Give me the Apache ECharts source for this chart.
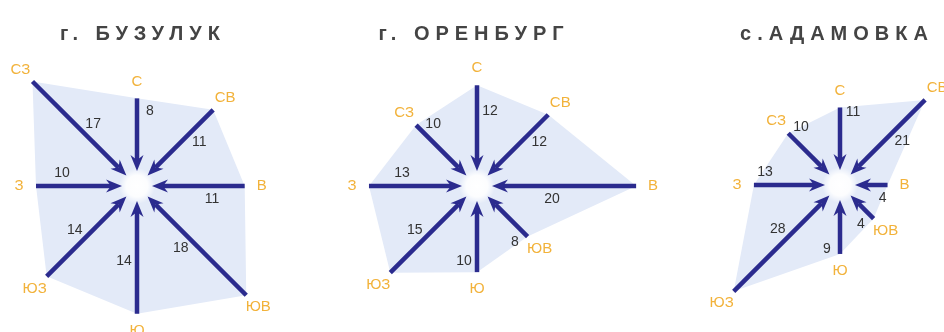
<!DOCTYPE html>
<html>
<head>
<meta charset="utf-8">
<script src="https://cdn.jsdelivr.net/npm/echarts@6/dist/echarts.min.js"></script>
<style>
    html, body { margin: 0; padding: 0; background: #fff; }
    #wrap { position: relative; width: 944px; height: 332px; }
    #chart { position: absolute; left: 0; top: 0; width: 944px; height: 332px; }
    #titles { position: absolute; left: 0; top: 0; width: 944px; height: 60px; }
    #titles text { letter-spacing: 6px; }
</style>
</head>
<body>
<div id="wrap">
    <div id="chart"></div>
    <div id="titles"></div>
</div>
<script>
// румбы и углы (0 = север, по часовой стрелке)
var directions = ['С', 'СВ', 'В', 'ЮВ', 'Ю', 'ЮЗ', 'З', 'СЗ'];
var angles = [0, 45, 90, 135, 180, 225, 270, 315];

var titles = ['г. БУЗУЛУК', 'г. ОРЕНБУРГ', 'с.АДАМОВКА'];

// повторяемость ветров, %
var buzuluk = [8, 11, 11, 18, 14, 14, 10, 17];
var orenburg = [12, 12, 20, 8, 10, 15, 13, 10];
var adamovka = [11, 21, 4, 4, 9, 28, 13, 10];

var arrowColor = '#2b2b8e';
var labelColor = '#f2b23a';
var areaColor = '#e3eaf8';

// положение и масштаб каждой розы
var panels = [
    { data: buzuluk, center: [137, 186], min: -5.1, max: 24.8, titleX: 138 },
    { data: orenburg, center: [477, 186], min: -1.8, max: 25.6, titleX: 469 },
    { data: adamovka, center: [840, 185], min: -7.1, max: 39.6, titleX: 832 }
];

function areaItem(params, api) {
    if (params.dataIndexInside !== 0) return null;
    var pts = [];
    for (var k = 0; k < params.dataInsideLength; k++) {
        pts.push(api.coord([api.value(0, k), api.value(1, k)]));
    }
    var cs = params.coordSys;
    return {
        type: 'group',
        children: [
            { type: 'polygon', shape: { points: pts }, style: { fill: areaColor } },
            {
                type: 'circle',
                shape: { cx: cs.cx, cy: cs.cy, r: 18 },
                style: {
                    fill: new echarts.graphic.RadialGradient(0.5, 0.5, 0.5, [
                        { offset: 0, color: '#ffffff' },
                        { offset: 0.6, color: 'rgba(255,255,255,0.9)' },
                        { offset: 1, color: 'rgba(255,255,255,0)' }
                    ])
                }
            }
        ]
    };
}

function arrowItem(params, api) {
    var cs = params.coordSys;
    var end = api.coord([api.value(0), api.value(1)]);
    var dx = end[0] - cs.cx, dy = end[1] - cs.cy;
    var len = Math.sqrt(dx * dx + dy * dy);
    var ux = dx / len, uy = dy / len;
    var px = -uy, py = ux; // сторона по часовой стрелке
    var gap = 15;
    var tip = [cs.cx + ux * gap, cs.cy + uy * gap];
    var notch = [tip[0] + ux * 11, tip[1] + uy * 11];
    var wing = [tip[0] + ux * 16, tip[1] + uy * 16];
    var along = Math.min(75, len - 5);
    var side = 13;
    var out = len + 17;
    return {
        type: 'group',
        children: [
            {
                type: 'line',
                shape: { x1: end[0], y1: end[1], x2: notch[0], y2: notch[1] },
                style: { stroke: arrowColor, lineWidth: 4.5 }
            },
            {
                type: 'polygon',
                shape: {
                    points: [
                        tip,
                        [wing[0] + px * 6.5, wing[1] + py * 6.5],
                        notch,
                        [wing[0] - px * 6.5, wing[1] - py * 6.5]
                    ]
                },
                style: { fill: arrowColor }
            },
            {
                type: 'text',
                x: cs.cx + ux * along + px * side,
                y: cs.cy + uy * along + py * side,
                style: {
                    text: String(api.value(0)),
                    fill: '#333',
                    font: '14px "Liberation Sans", Arial, sans-serif',
                    align: 'center',
                    verticalAlign: 'middle'
                }
            },
            {
                type: 'text',
                x: cs.cx + ux * out,
                y: cs.cy + uy * out,
                style: {
                    text: directions[params.dataIndex],
                    fill: labelColor,
                    font: '15px "Liberation Sans", Arial, sans-serif',
                    align: 'center',
                    verticalAlign: 'middle'
                }
            }
        ]
    };
}

var option = {
    backgroundColor: '#fff',
    animation: false,
    polar: [],
    angleAxis: [],
    radiusAxis: [],
    series: []
};
var titleOption = { animation: false, title: [] };

panels.forEach(function (p, i) {
    titleOption.title.push({
        text: titles[i],
        left: p.titleX,
        top: 18,
        textAlign: 'center',
        textStyle: { color: '#444', fontSize: 20, fontWeight: 'bold', fontFamily: '"Liberation Sans", Arial, sans-serif' }
    });
    option.polar.push({ center: p.center, radius: 200 });
    option.angleAxis.push({
        polarIndex: i, type: 'value', min: 0, max: 360, startAngle: 90, clockwise: true,
        show: false, axisLine: { show: false }, splitLine: { show: false }, axisLabel: { show: false }, axisTick: { show: false }
    });
    option.radiusAxis.push({
        polarIndex: i, type: 'value', min: p.min, max: p.max,
        show: false, axisLine: { show: false }, splitLine: { show: false }, axisLabel: { show: false }, axisTick: { show: false }
    });
    var pts = p.data.map(function (v, k) { return [v, angles[k]]; });
    option.series.push({
        type: 'custom', coordinateSystem: 'polar', polarIndex: i, silent: true, z: 1,
        renderItem: areaItem, data: pts
    });
    option.series.push({
        type: 'custom', coordinateSystem: 'polar', polarIndex: i, silent: true, z: 2,
        renderItem: arrowItem, data: pts
    });
});

var myChart = echarts.init(document.getElementById('chart'));
myChart.setOption(option);

// заголовки отдельно, в SVG, чтобы задать разрядку букв
var titleChart = echarts.init(document.getElementById('titles'), null, { renderer: 'svg' });
titleChart.setOption(titleOption);
</script>
</body>
</html>
